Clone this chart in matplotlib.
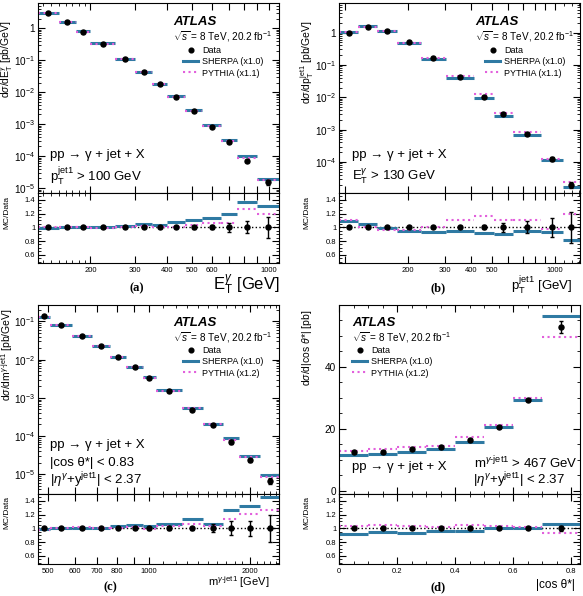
import numpy as np
import matplotlib
matplotlib.use('Agg')
import matplotlib.pyplot as plt
from matplotlib.ticker import FixedLocator, FuncFormatter, NullFormatter
from matplotlib.lines import Line2D

plt.rcParams['font.family'] = ['Liberation Sans', 'DejaVu Sans']
plt.rcParams['mathtext.fontset'] = 'custom'
plt.rcParams['mathtext.rm'] = 'Liberation Sans'
plt.rcParams['mathtext.it'] = 'Liberation Sans:italic'
plt.rcParams['mathtext.bf'] = 'Liberation Sans:bold'

# (a) E_T^gamma
et_edges = [125, 150, 175, 200, 250, 300, 350, 400, 470, 550, 650, 750, 900, 1100]
et_data = [2.95, 1.54, 0.78, 0.33, 0.109, 0.042, 0.0176, 0.0070, 0.0025, 8.3e-4, 2.7e-4, 7.1e-5, 1.5e-5]
et_err = [0.01, 0.01, 0.01, 0.01, 0.01, 0.01, 0.01, 0.015, 0.02, 0.03, 0.07, 0.09, 0.15]
et_sherpa = [0.99, 1.0, 1.01, 1.01, 1.02, 1.05, 1.04, 1.075, 1.10, 1.14, 1.20, 1.37, 1.31]
et_pythia = [1.0, 1.0, 1.0, 0.99, 1.01, 1.02, 1.01, 1.0, 1.04, 1.06, 1.06, 1.26, 1.19]

# (b) p_T^jet1
pt_edges = [94, 116, 142, 176, 229, 302, 412, 512, 628, 857, 1088, 1314]
pt_data = [0.95, 1.5, 1.13, 0.50, 0.165, 0.042, 0.0104, 0.0030, 7.4e-4, 1.28e-4, 2.0e-5]
pt_err = [0.01, 0.01, 0.01, 0.01, 0.01, 0.015, 0.03, 0.07, 0.09, 0.14, 0.23]
pt_sherpa = [1.09, 1.05, 0.985, 0.95, 0.937, 0.947, 0.913, 0.90, 0.947, 0.93, 0.82]
pt_pythia = [1.10, 1.0, 0.957, 0.96, 1.0, 1.11, 1.17, 1.11, 1.106, 0.97, 1.2]

# (c) m^{gamma-jet1}
m_edges = [467, 507, 590, 674, 763, 856, 956, 1047, 1250, 1450, 1657, 1858, 2142, 2447]
m_data = [0.135, 0.082, 0.042, 0.0222, 0.0114, 0.00625, 0.00336, 0.0015, 4.9e-4, 1.96e-4, 7.0e-5, 2.3e-5, 6.7e-6]
m_err = [0.01, 0.01, 0.01, 0.01, 0.015, 0.015, 0.02, 0.03, 0.02, 0.06, 0.1, 0.11, 0.2]
m_sherpa = [0.99, 1.0, 1.0, 1.0, 1.03, 1.05, 1.03, 1.06, 1.13, 1.07, 1.26, 1.33, 1.45]
m_pythia = [0.975, 1.01, 1.02, 1.0, 1.01, 1.015, 0.995, 1.03, 1.07, 1.03, 1.13, 1.21, 1.27]

# (d) |cos theta*|
c_edges = [0, 0.1, 0.2, 0.3, 0.4, 0.5, 0.6, 0.7, 0.83]
c_data = [12.5, 12.7, 13.5, 14.2, 16.5, 20.6, 29.4, 52.9]
c_err = [0.01, 0.01, 0.01, 0.01, 0.01, 0.01, 0.01, 0.035]
c_sherpa = [0.923, 0.947, 0.937, 0.957, 0.966, 1.0, 1.0, 1.067]
c_pythia = [1.034, 1.053, 1.04, 1.02, 1.048, 1.03, 1.015, 0.937]

BLUE = '#2f7aa3'
PINK = '#e25fdc'
W, H = 583, 596

fig = plt.figure(figsize=(W / 100, H / 100), dpi=100)


def box(x0, x1, y0, y1):
    # caja en pixeles (y desde arriba) -> rect de la figura
    return [x0 / W, 1 - y1 / H, (x1 - x0) / W, (y1 - y0) / H]


def draw(ax, axr, edges, data, err, sh, py, logx):
    edges = np.array(edges, dtype=float)
    data = np.array(data)
    err = np.array(err)
    sh = np.array(sh)
    py = np.array(py)
    lo, hi = edges[:-1], edges[1:]
    xc = np.sqrt(lo * hi) if logx else (lo + hi) / 2
    ax.hlines(data * sh, lo, hi, color=BLUE, lw=2.2)
    ax.hlines(data * py, lo, hi, color=PINK, lw=1.5, linestyles=':')
    ax.errorbar(xc, data, yerr=data * err, fmt='o', color='k', ms=3.6,
                capsize=1.5, elinewidth=1, capthick=1)
    axr.axhline(1, color='k', ls=':', lw=1)
    axr.hlines(sh, lo, hi, color=BLUE, lw=2.2)
    axr.hlines(py, lo, hi, color=PINK, lw=1.5, linestyles=':')
    axr.errorbar(xc, np.ones(len(data)), yerr=err, fmt='o', color='k', ms=3.6,
                 capsize=1.5, elinewidth=1, capthick=1)
    for a in (ax, axr):
        a.set_xlim(edges[0], edges[-1])
        if logx:
            a.set_xscale('log')
        a.tick_params(which='both', direction='in', top=True, right=True)
        a.tick_params(which='major', length=5, width=0.8)
        a.tick_params(which='minor', length=2.5, width=0.6)
    ax.tick_params(labelbottom=False)
    ax.tick_params(axis='y', labelsize=7.2, pad=2.5)
    axr.tick_params(axis='y', labelsize=5.5, pad=2)
    axr.tick_params(axis='x', labelsize=5.5, pad=3)
    axr.set_ylim(0.48, 1.5)
    axr.yaxis.set_major_locator(FixedLocator([0.6, 0.8, 1.0, 1.2, 1.4]))
    axr.yaxis.set_minor_locator(FixedLocator(np.arange(10, 30) * 0.05))
    axr.yaxis.set_major_formatter(FuncFormatter(lambda v, p: '%g' % v))
    axr.yaxis.set_minor_formatter(NullFormatter())


def logy(ax, lo, hi, decades):
    # solo las decadas visibles, para que no haya etiquetas fuera del eje
    ax.set_yscale('log')
    ax.set_ylim(lo, hi)
    majors = [10.0 ** d for d in decades]
    minors = [m * 10.0 ** d for d in range(decades[0] - 1, decades[-1] + 1)
              for m in range(2, 10) if lo <= m * 10.0 ** d <= hi]
    ax.yaxis.set_major_locator(FixedLocator(majors))
    ax.yaxis.set_minor_locator(FixedLocator(minors))
    ax.yaxis.set_minor_formatter(NullFormatter())
    ax.yaxis.set_major_formatter(FuncFormatter(
        lambda v, p: '1' if abs(v - 1) < 1e-9 else r'$10^{%d}$' % round(np.log10(v))))


def logx_ticks(axes, majors, labeled, minors):
    for a in axes:
        a.xaxis.set_major_locator(FixedLocator(majors))
        a.xaxis.set_minor_locator(FixedLocator(minors))
        a.xaxis.set_minor_formatter(NullFormatter())
        a.xaxis.set_major_formatter(FuncFormatter(
            lambda v, p: '%d' % v if round(v) in labeled else ''))


def header(ax, y, atlas_x, legend_x, legend_y, pyth):
    fig.text(atlas_x / W, 1 - y / H, 'ATLAS', fontsize=9.5, weight='bold',
             style='italic', va='center')
    fig.text(atlas_x / W, 1 - (y + 15) / H, r'$\sqrt{s}$ = 8 TeV, 20.2 fb$^{-1}$',
             fontsize=7.2, va='center')
    handles = [Line2D([], [], marker='o', color='k', ls='none', ms=3.4),
               Line2D([], [], color=BLUE, lw=2.2),
               Line2D([], [], color=PINK, lw=1.5, ls=':')]
    labels = ['Data', 'SHERPA (x1.0)', 'PYTHIA (%s)' % pyth]
    ax.legend(handles, labels, loc='upper left', bbox_to_anchor=(legend_x / W, 1 - legend_y / H),
              bbox_transform=fig.transFigure, frameon=False, fontsize=6.5,
              handlelength=1.7, handletextpad=0.4, labelspacing=0.25,
              borderpad=0, borderaxespad=0, numpoints=1)


def ylabels(x, top_main, top_ratio, label):
    fig.text(x / W, 1 - top_main / H, label, rotation=90,
             fontsize=7.5, ha='center', va='top')
    fig.text(x / W, 1 - top_ratio / H, 'MC/Data', rotation=90,
             fontsize=6, ha='center', va='top')


MJ = r'm$^{\gamma\text{-jet1}}$'

# ---------------- (a)
axa = fig.add_axes(box(38.3, 279.3, 3.3, 193))
axar = fig.add_axes(box(38.3, 279.3, 193, 263))
draw(axa, axar, et_edges, et_data, et_err, et_sherpa, et_pythia, True)
logy(axa, 7e-6, 6, [-5, -4, -3, -2, -1, 0])
logx_ticks([axa, axar], [200, 300, 400, 500, 600, 700, 800, 900, 1000],
           [200, 300, 400, 500, 600, 1000], [130, 140, 150, 160, 170, 180, 190])
header(axa, 22, 173, 183, 46, 'x1.1')
fig.text(50 / W, 1 - 155 / H, 'pp → γ + jet + X', fontsize=9.5, va='center')
fig.text(50 / W, 1 - 176 / H, r'p$_{\rm T}^{\rm jet1}$ > 100 GeV', fontsize=9.5, va='center')
ylabels(7, 20, 196, r'd$\sigma$/dE$_{\rm T}^{\gamma}$ [pb/GeV]')
fig.text(279.3 / W, 1 - 290 / H, r'E$_{\rm T}^{\gamma}$ [GeV]', fontsize=12, ha='right', va='baseline')
fig.text(137 / W, 1 - 288 / H, '(a)', fontsize=9, weight='bold', family='Liberation Serif',
         ha='center', va='center')

# ---------------- (b)
axb = fig.add_axes(box(339.3, 580, 3.3, 193))
axbr = fig.add_axes(box(339.3, 580, 193, 263))
draw(axb, axbr, pt_edges, pt_data, pt_err, pt_sherpa, pt_pythia, True)
logy(axb, 1.1e-5, 8, [-4, -3, -2, -1, 0])
logx_ticks([axb, axbr], [100, 200, 300, 400, 500, 600, 700, 800, 900, 1000],
           [200, 300, 400, 500, 1000], [1100, 1200, 1300])
header(axb, 22, 475, 485, 46, 'x1.1')
fig.text(352 / W, 1 - 155 / H, 'pp → γ + jet + X', fontsize=9.5, va='center')
fig.text(352 / W, 1 - 176 / H, r'E$_{\rm T}^{\gamma}$ > 130 GeV', fontsize=9.5, va='center')
ylabels(307, 20, 196, r'd$\sigma$/dp$_{\rm T}^{\rm jet1}$ [pb/GeV]')
fig.text(572 / W, 1 - 290 / H, r'p$_{\rm T}^{\rm jet1}$ [GeV]', fontsize=9.5, ha='right', va='baseline')
fig.text(438 / W, 1 - 288 / H, '(b)', fontsize=9, weight='bold', family='Liberation Serif',
         ha='center', va='center')

# ---------------- (c)
axc = fig.add_axes(box(38.3, 279.3, 305, 494))
axcr = fig.add_axes(box(38.3, 279.3, 494, 564))
draw(axc, axcr, m_edges, m_data, m_err, m_sherpa, m_pythia, True)
logy(axc, 3e-6, 0.27, [-5, -4, -3, -2, -1])
logx_ticks([axc, axcr], [500, 600, 700, 800, 900, 1000, 2000],
           [500, 600, 700, 800, 1000, 2000],
           [1100, 1200, 1300, 1400, 1500, 1600, 1700, 1800, 1900, 2100, 2200, 2300, 2400])
header(axc, 323, 173, 183, 346, 'x1.2')
fig.text(50 / W, 1 - 445 / H, 'pp → γ + jet + X', fontsize=9.5, va='center')
fig.text(50 / W, 1 - 463 / H, '|cos θ*| < 0.83', fontsize=9.5, va='center')
fig.text(50 / W, 1 - 480 / H, r'|$\eta^{\gamma}$+y$^{\rm jet1}$| < 2.37', fontsize=9.5, va='center')
ylabels(7, 308, 496, r'd$\sigma$/d' + MJ + ' [pb/GeV]')
fig.text(270 / W, 1 - 586 / H, MJ + ' [GeV]', fontsize=8, ha='right', va='baseline')
fig.text(110 / W, 1 - 587 / H, '(c)', fontsize=9, weight='bold', family='Liberation Serif',
         ha='center', va='center')

# ---------------- (d)
axd = fig.add_axes(box(339.3, 580, 305, 494))
axdr = fig.add_axes(box(339.3, 580, 494, 564))
draw(axd, axdr, c_edges, c_data, c_err, c_sherpa, c_pythia, False)
axd.set_ylim(-1, 60)
axd.yaxis.set_major_locator(FixedLocator([0, 20, 40]))
axd.yaxis.set_minor_locator(FixedLocator(np.arange(0, 61, 5)))
for a in (axd, axdr):
    a.xaxis.set_major_locator(FixedLocator([0, 0.2, 0.4, 0.6, 0.8]))
    a.xaxis.set_minor_locator(FixedLocator(np.arange(0, 17) * 0.05))
    a.xaxis.set_major_formatter(FuncFormatter(lambda v, p: '%g' % v))
header(axd, 323, 352, 352, 346, 'x1.2')
fig.text(352 / W, 1 - 467 / H, 'pp → γ + jet + X', fontsize=9.5, va='center')
fig.text(474 / W, 1 - 463 / H, MJ + ' > 467 GeV', fontsize=9.5, va='center')
fig.text(473 / W, 1 - 480 / H, r'|$\eta^{\gamma}$+y$^{\rm jet1}$| < 2.37', fontsize=9.5, va='center')
ylabels(307, 310, 496, r'd$\sigma$/d|cos $\theta$*| [pb]')
fig.text(575 / W, 1 - 588 / H, '|cos θ*|', fontsize=8.5, ha='right', va='baseline')
fig.text(438 / W, 1 - 587 / H, '(d)', fontsize=9, weight='bold', family='Liberation Serif',
         ha='center', va='center')

fig.savefig('out.png', dpi=100)
